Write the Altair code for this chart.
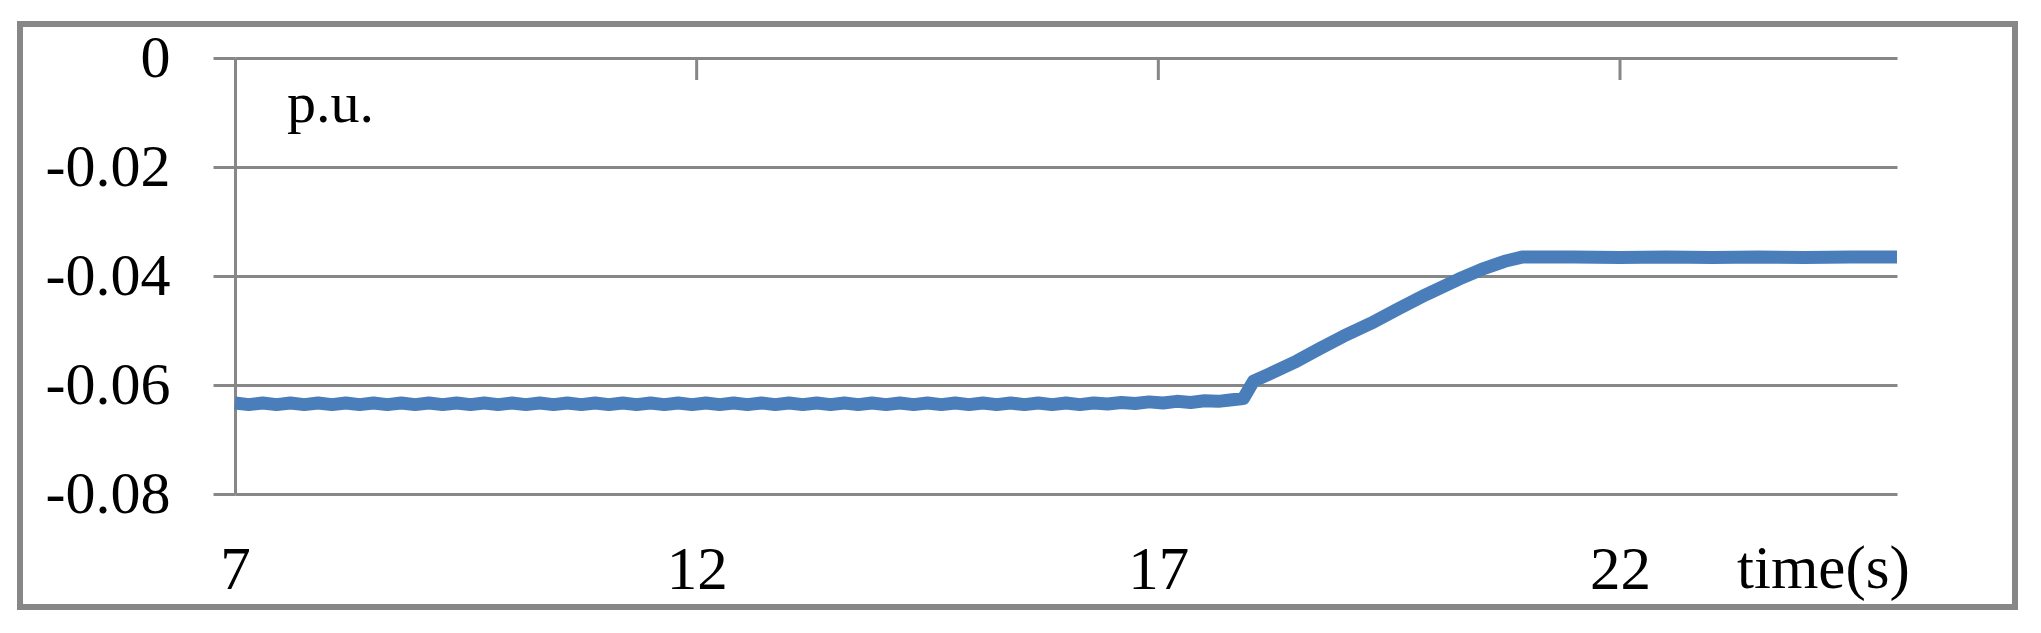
import altair as alt
import pandas as pd

# ---- data ----
time_s = [
    7.00, 7.15, 7.30, 7.45, 7.60, 7.75, 7.90, 8.05, 8.20, 8.35, 8.50, 8.65, 8.80, 8.95,
    9.10, 9.25, 9.40, 9.55, 9.70, 9.85, 10.00, 10.15, 10.30, 10.45, 10.60, 10.75, 10.90,
    11.05, 11.20, 11.35, 11.50, 11.65, 11.80, 11.95, 12.10, 12.25, 12.40, 12.55, 12.70,
    12.85, 13.00, 13.15, 13.30, 13.45, 13.60, 13.75, 13.90, 14.05, 14.20, 14.35, 14.50,
    14.65, 14.80, 14.95, 15.10, 15.25, 15.40, 15.55, 15.70, 15.85, 16.00, 16.15, 16.30,
    16.45, 16.60, 16.75, 16.90, 17.05, 17.20, 17.35, 17.50, 17.65, 17.80,
    17.92, 18.03, 18.20, 18.50, 18.75, 19.00, 19.30, 19.60, 19.90, 20.25, 20.50, 20.75,
    20.95, 21.50, 22.00, 22.50, 23.00, 23.50, 24.00, 24.50, 25.00,
]
pu_value = [
    -0.0633, -0.0636, -0.0633, -0.0636, -0.0633, -0.0636, -0.0633, -0.0636, -0.0633, -0.0636,
    -0.0633, -0.0636, -0.0633, -0.0636, -0.0633, -0.0636, -0.0633, -0.0636, -0.0633, -0.0636,
    -0.0633, -0.0636, -0.0633, -0.0636, -0.0633, -0.0636, -0.0633, -0.0636, -0.0633, -0.0636,
    -0.0633, -0.0636, -0.0633, -0.0636, -0.0633, -0.0636, -0.0633, -0.0636, -0.0633, -0.0636,
    -0.0633, -0.0636, -0.0633, -0.0636, -0.0633, -0.0636, -0.0633, -0.0636, -0.0633, -0.0636,
    -0.0633, -0.0636, -0.0633, -0.0636, -0.0633, -0.0636, -0.0633, -0.0636, -0.0633, -0.0636,
    -0.0633, -0.0636, -0.0633, -0.0635, -0.0632, -0.0634, -0.0631, -0.0633, -0.0630, -0.0632,
    -0.0629, -0.0630, -0.0627,
    -0.0625, -0.0593, -0.0580, -0.0556, -0.0533, -0.0511, -0.0487, -0.0460, -0.0434, -0.0406,
    -0.0388, -0.0373, -0.0365, -0.0365, -0.0366, -0.0365, -0.0366, -0.0365, -0.0366, -0.0365,
    -0.0365,
]
x_tick_labels = [7, 12, 17, 22]
x_top_ticks = [12, 17, 22]
y_tick_values = [0, -0.02, -0.04, -0.06, -0.08]

df = pd.DataFrame({"t": time_s, "v": pu_value})
ticks_df = pd.DataFrame({"t": x_top_ticks})
one = pd.DataFrame({"k": [0]})

GRAY = "#878787"
BLUE = "#4a7ebb"
FONT = "Liberation Serif"

xscale = alt.Scale(domain=[7, 25], nice=False, zero=False)
yscale = alt.Scale(domain=[-0.08, 0], nice=False, zero=False)

line = alt.Chart(df).mark_line(color=BLUE, strokeWidth=13, strokeJoin="round").encode(
    x=alt.X("t:Q", scale=xscale,
            axis=alt.Axis(values=x_tick_labels, format="d", title=None, grid=False,
                          domain=False, ticks=False, tickSize=0, labelPadding=94,
                          labelBaseline="alphabetic", labelFlush=False,
                          labelFont=FONT, labelFontSize=61, labelColor="#000000")),
    y=alt.Y("v:Q", scale=yscale,
            axis=alt.Axis(values=y_tick_values, title=None, grid=True, gridColor=GRAY,
                          gridWidth=3, gridOpacity=1, domain=True, domainColor=GRAY,
                          domainWidth=3, ticks=True, tickColor=GRAY, tickWidth=3,
                          tickSize=22, labelPadding=43, labelFlush=False,
                          labelFont=FONT, labelFontSize=60, labelColor="#000000",
                          labelExpr="datum.value == 0 ? '0' : '-' + format(abs(datum.value), '.2f')")),
)

top_ticks = alt.Chart(ticks_df).mark_rule(color=GRAY, strokeWidth=3).encode(
    x=alt.X("t:Q", scale=xscale),
    y=alt.value(0),
    y2=alt.value(22),
)

border = alt.Chart(one).mark_rect(fillOpacity=0, stroke=GRAY, strokeWidth=6).encode(
    x=alt.value(-215), x2=alt.value(1780), y=alt.value(-34), y2=alt.value(549)
)

pu_text = alt.Chart(pd.DataFrame({"label": ["p.u."]})).mark_text(
    font=FONT, fontSize=58, align="left", baseline="alphabetic", color="#000000"
).encode(text="label:N", x=alt.value(52), y=alt.value(64))

time_text = alt.Chart(pd.DataFrame({"label": ["time(s)"]})).mark_text(
    font=FONT, fontSize=61, align="left", baseline="alphabetic", color="#000000"
).encode(text="label:N", x=alt.value(1502), y=alt.value(530))

chart = alt.layer(border, top_ticks, line, pu_text, time_text).properties(
    width=1662,
    height=436,
    autosize=alt.AutoSizeParams(type="none"),
    padding={"left": 227, "top": 50, "right": 136, "bottom": 131},
    background="#ffffff",
).configure_view(strokeWidth=0)

chart.save("out.html", embed_options={"renderer": "svg", "actions": False})
